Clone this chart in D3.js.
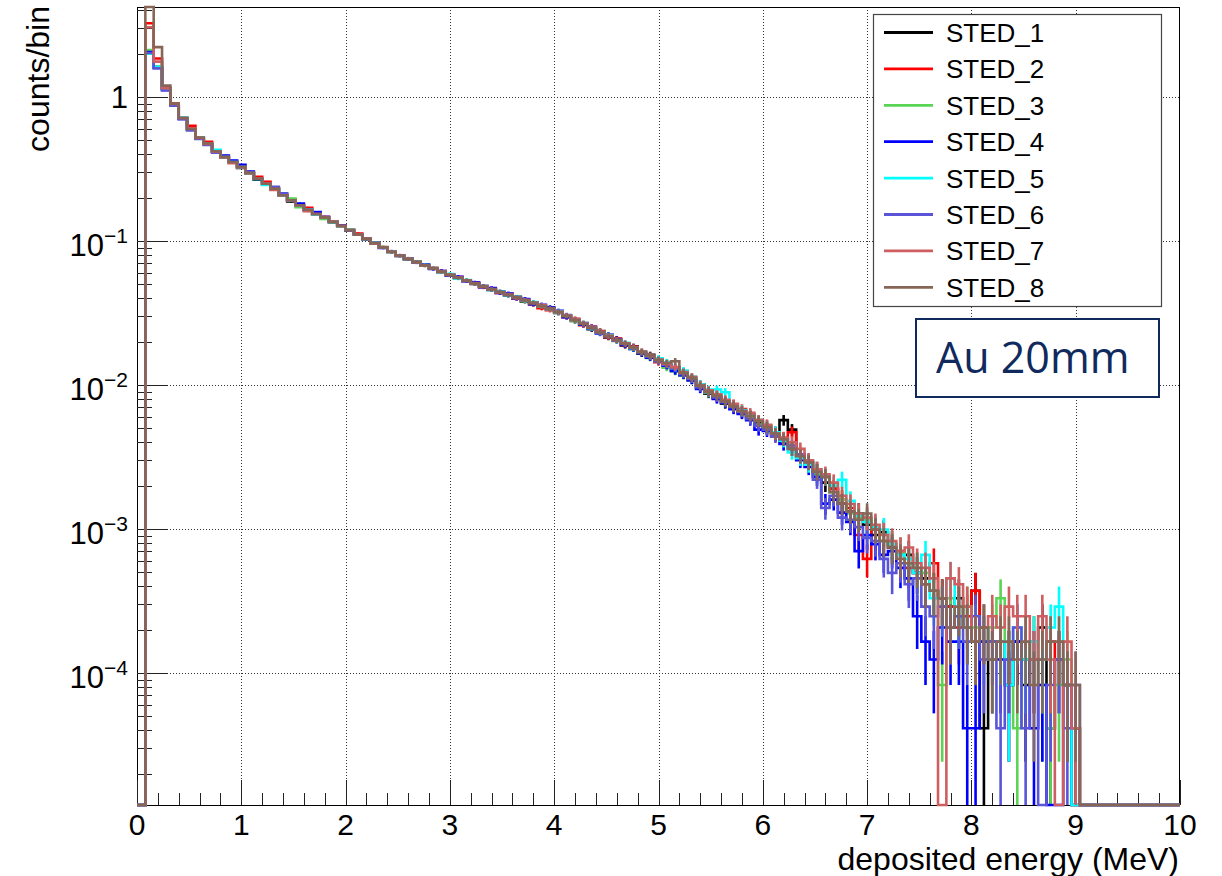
<!DOCTYPE html>
<html>
<head>
<meta charset="utf-8">
<script src="https://cdn.jsdelivr.net/npm/d3@7"></script>
<style>
  body { margin: 0; background: #fff; }
  svg { display: block; font-family: "Liberation Sans", Arial, Helvetica, sans-serif; }
</style>
</head>
<body>
<script>
// histogram binning: 125 bins of 0.08 MeV from 0 to 10 MeV
const binWidth = 0.08;
// value of a single entry (used for the sqrt(N) error bars)
const countUnit = 4.13e-5;

const seriesNames = ["STED_1", "STED_2", "STED_3", "STED_4", "STED_5", "STED_6", "STED_7", "STED_8"];
const seriesColors = ["#000000", "#ff0000", "#59d454", "#0000ff", "#00ffff", "#5954d8", "#cf5e61", "#876657"];

// counts/bin per bin
const sted1 = [
  0, 2.1, 1.62, 1.14, 0.89, 0.715, 0.60, 0.52, 0.472, 0.418,
  0.382, 0.352, 0.321, 0.296, 0.266, 0.249, 0.23, 0.207, 0.188, 0.177,
  0.164, 0.153, 0.145, 0.135, 0.127, 0.118, 0.111, 0.103, 0.0962, 0.0905,
  0.0838, 0.0792, 0.0747, 0.0716, 0.0675, 0.0646, 0.0608, 0.0585, 0.0552, 0.0534,
  0.0503, 0.0487, 0.0458, 0.0446, 0.0418, 0.0409, 0.0381, 0.0373, 0.0349, 0.0344,
  0.0316, 0.0305, 0.0278, 0.0269, 0.0244, 0.0237, 0.0214, 0.0209, 0.0188, 0.0185,
  0.0165, 0.0162, 0.0146, 0.0142, 0.0126, 0.0124, 0.0108, 0.0101, 0.0087, 0.0085,
  0.0074, 0.0073, 0.0064, 0.0062, 0.0055, 0.0050, 0.0047, 0.0057, 0.0049, 0.0032,
  0.0029, 0.0025, 0.0021, 0.0019, 0.0015, 1.32e-3, 1.28e-3, 1.07e-3, 9.09e-4, 9.50e-4,
  7.43e-4, 6.61e-4, 6.61e-4, 4.96e-4, 4.54e-4, 3.72e-4, 3.30e-4, 2.89e-4, 3.30e-4, 2.07e-4,
  3.72e-4, 4.13e-5, 1.24e-4, 1.65e-4, 1.24e-4, 1.65e-4, 8.26e-5, 1.24e-4, 2.07e-4, 4.13e-5,
  1.24e-4, 8.26e-5, 4.13e-5, 0, 0, 0, 0, 0, 0, 0,
  0, 0, 0, 0, 0
];
const sted2 = [
  0, 3.25, 1.85, 1.16, 0.9, 0.72, 0.63, 0.525, 0.488, 0.421,
  0.386, 0.356, 0.328, 0.299, 0.279, 0.258, 0.232, 0.209, 0.193, 0.178,
  0.17, 0.155, 0.147, 0.137, 0.1285, 0.12, 0.1125, 0.1045, 0.0975, 0.0898,
  0.0848, 0.0795, 0.0758, 0.0709, 0.0683, 0.0651, 0.0618, 0.0578, 0.0561, 0.0527,
  0.0512, 0.0477, 0.0466, 0.0436, 0.0428, 0.0399, 0.0392, 0.0362, 0.0342, 0.0331,
  0.0324, 0.0296, 0.0287, 0.0260, 0.0255, 0.0236, 0.0215, 0.0209, 0.0189, 0.0184,
  0.0171, 0.0157, 0.0144, 0.0135, 0.0132, 0.0118, 0.0113, 0.0097, 0.0092, 0.0081,
  0.0078, 0.0069, 0.0068, 0.0059, 0.0057, 0.0052, 0.0044, 0.0043, 0.0047, 0.0033,
  0.0029, 0.0026, 0.0023, 0.0019, 0.0016, 1.40e-3, 9.09e-4, 6.20e-4, 9.91e-4, 8.26e-4,
  7.85e-4, 7.02e-4, 5.37e-4, 4.96e-4, 4.13e-4, 5.78e-4, 3.30e-4, 2.89e-4, 2.07e-4, 2.48e-4,
  3.72e-4, 2.07e-4, 1.24e-4, 1.65e-4, 8.26e-5, 1.65e-4, 1.24e-4, 1.65e-4, 1.24e-4, 1.65e-4,
  1.24e-4, 8.26e-5, 0, 0, 0, 0, 0, 0, 0, 0,
  0, 0, 0, 0, 0
];
const sted3 = [
  0, 2.12, 1.63, 1.14, 0.885, 0.71, 0.597, 0.521, 0.471, 0.418,
  0.381, 0.352, 0.325, 0.296, 0.27, 0.249, 0.229, 0.207, 0.197, 0.172,
  0.164, 0.153, 0.142, 0.135, 0.1265, 0.1195, 0.1105, 0.104, 0.0962, 0.0908,
  0.0838, 0.0793, 0.0744, 0.0718, 0.0674, 0.0641, 0.0615, 0.0586, 0.0553, 0.0528,
  0.0509, 0.0481, 0.0464, 0.0439, 0.0424, 0.0402, 0.0384, 0.0366, 0.0357, 0.0341,
  0.0318, 0.0302, 0.0279, 0.0262, 0.0251, 0.0231, 0.0222, 0.0202, 0.0191, 0.0178,
  0.0167, 0.0154, 0.0147, 0.0132, 0.0124, 0.0116, 0.0109, 0.0095, 0.0088, 0.0084,
  0.0075, 0.0070, 0.0064, 0.0060, 0.0053, 0.0050, 0.0046, 0.0040, 0.0036, 0.0031,
  0.0030, 0.0024, 0.0023, 0.0018, 0.0016, 1.28e-3, 1.20e-3, 1.16e-3, 1.03e-3, 8.26e-4,
  7.85e-4, 7.02e-4, 5.78e-4, 5.37e-4, 4.96e-4, 3.72e-4, 8.26e-5, 3.30e-4, 2.48e-4, 2.89e-4,
  2.07e-4, 1.65e-4, 2.07e-4, 3.30e-4, 1.24e-4, 4.13e-5, 1.24e-4, 1.65e-4, 8.26e-5, 4.13e-5,
  8.26e-5, 1.24e-4, 0, 0, 0, 0, 0, 0, 0, 0,
  0, 0, 0, 0, 0
];
const sted4 = [
  0, 2.05, 1.6, 1.12, 0.88, 0.705, 0.595, 0.515, 0.47, 0.417,
  0.392, 0.362, 0.338, 0.304, 0.27, 0.249, 0.23, 0.209, 0.191, 0.182,
  0.164, 0.159, 0.146, 0.137, 0.1275, 0.1185, 0.1115, 0.1045, 0.0968, 0.0896,
  0.0849, 0.0786, 0.0754, 0.0708, 0.0685, 0.064, 0.0619, 0.0577, 0.0563, 0.0526,
  0.0515, 0.0478, 0.0471, 0.0436, 0.0432, 0.0398, 0.0395, 0.0364, 0.0361, 0.0345,
  0.0327, 0.0296, 0.0284, 0.0262, 0.0246, 0.0228, 0.0223, 0.0208, 0.0190, 0.0178,
  0.0166, 0.0155, 0.0151, 0.0136, 0.0125, 0.0117, 0.0108, 0.0094, 0.0091, 0.0080,
  0.0075, 0.0068, 0.0063, 0.0057, 0.0049, 0.0048, 0.0045, 0.0039, 0.0036, 0.0030,
  0.0027, 0.0023, 0.0015, 0.0016, 0.0013, 1.12e-3, 7.02e-4, 9.09e-4, 7.85e-4, 6.61e-4,
  7.02e-4, 5.37e-4, 4.54e-4, 2.48e-4, 1.65e-4, 1.24e-4, 2.07e-4, 1.65e-4, 1.65e-4, 4.13e-5,
  4.13e-5, 1.65e-4, 1.65e-4, 1.24e-4, 8.26e-5, 1.65e-4, 1.24e-4, 4.13e-5, 8.26e-5, 0,
  0, 8.26e-5, 0, 0, 0, 0, 0, 0, 0, 0,
  0, 0, 0, 0, 0
];
const sted5 = [
  0, 2.0, 1.62, 1.13, 0.89, 0.72, 0.6, 0.522, 0.474, 0.429,
  0.383, 0.353, 0.326, 0.296, 0.27, 0.245, 0.23, 0.208, 0.191, 0.176,
  0.166, 0.153, 0.145, 0.1365, 0.1265, 0.1195, 0.1105, 0.1035, 0.0972, 0.0898,
  0.0845, 0.0787, 0.0752, 0.0711, 0.0681, 0.0648, 0.0608, 0.0589, 0.0549, 0.0536,
  0.0505, 0.0485, 0.0457, 0.0445, 0.0419, 0.0408, 0.0385, 0.0376, 0.0352, 0.0336,
  0.0323, 0.0304, 0.0284, 0.0268, 0.0248, 0.0231, 0.0221, 0.0204, 0.0196, 0.0180,
  0.0170, 0.0158, 0.0153, 0.0144, 0.0131, 0.0126, 0.0114, 0.0101, 0.0093, 0.0093,
  0.0089, 0.0072, 0.0067, 0.0062, 0.0057, 0.0052, 0.0047, 0.0041, 0.0034, 0.0031,
  0.0028, 0.0026, 0.0023, 0.0020, 0.0022, 1.57e-3, 1.24e-3, 1.12e-3, 1.03e-3, 9.91e-4,
  7.85e-4, 6.61e-4, 6.20e-4, 4.96e-4, 6.61e-4, 3.30e-4, 2.89e-4, 4.54e-4, 2.48e-4, 2.07e-4,
  1.65e-4, 2.07e-4, 1.24e-4, 1.65e-4, 8.26e-5, 2.07e-4, 1.24e-4, 1.65e-4, 1.24e-4, 2.07e-4,
  2.89e-4, 8.26e-5, 0, 0, 0, 0, 0, 0, 0, 0,
  0, 0, 0, 0, 0
];
const sted6 = [
  0, 2.02, 1.58, 1.11, 0.87, 0.70, 0.585, 0.512, 0.465, 0.41,
  0.382, 0.353, 0.326, 0.297, 0.272, 0.251, 0.238, 0.214, 0.192, 0.177,
  0.165, 0.154, 0.147, 0.1355, 0.1275, 0.1188, 0.1115, 0.1032, 0.0968, 0.0904,
  0.0839, 0.0796, 0.0746, 0.0715, 0.0677, 0.0643, 0.0614, 0.0580, 0.0558, 0.0530,
  0.0506, 0.0486, 0.0459, 0.0443, 0.0421, 0.0406, 0.0390, 0.0372, 0.0356, 0.0338,
  0.0320, 0.0306, 0.0286, 0.0267, 0.0254, 0.0230, 0.0217, 0.0203, 0.0194, 0.0183,
  0.0168, 0.0157, 0.0146, 0.0138, 0.0131, 0.0119, 0.0110, 0.0096, 0.0089, 0.0082,
  0.0076, 0.0070, 0.0065, 0.0058, 0.0052, 0.0049, 0.0044, 0.0042, 0.0038, 0.0033,
  0.0030, 0.0022, 0.0014, 0.0017, 0.0012, 1.16e-3, 1.03e-3, 8.67e-4, 8.26e-4, 6.20e-4,
  4.96e-4, 5.78e-4, 4.13e-4, 4.54e-4, 2.89e-4, 2.48e-4, 2.89e-4, 2.07e-4, 2.48e-4, 1.65e-4,
  2.48e-4, 1.24e-4, 1.65e-4, 4.13e-5, 1.24e-4, 2.07e-4, 4.13e-5, 1.24e-4, 0, 8.26e-5,
  1.24e-4, 4.13e-5, 8.26e-5, 0, 0, 0, 0, 0, 0, 0,
  0, 0, 0, 0, 0
];
const sted7 = [
  0, 3.05, 1.76, 1.15, 0.895, 0.715, 0.605, 0.52, 0.472, 0.418,
  0.382, 0.347, 0.325, 0.296, 0.272, 0.251, 0.226, 0.208, 0.192, 0.177,
  0.161, 0.154, 0.146, 0.1362, 0.1268, 0.1192, 0.1108, 0.1038, 0.0962, 0.0906,
  0.0841, 0.0788, 0.0752, 0.0712, 0.0676, 0.0646, 0.0610, 0.0583, 0.0555, 0.0533,
  0.0506, 0.0482, 0.0463, 0.0440, 0.0425, 0.0401, 0.0389, 0.0372, 0.0358, 0.0337,
  0.0322, 0.0303, 0.0288, 0.0266, 0.0250, 0.0235, 0.0220, 0.0206, 0.0195, 0.0182,
  0.0170, 0.0160, 0.0150, 0.0140, 0.0133, 0.0123, 0.0114, 0.0100, 0.0092, 0.0086,
  0.0079, 0.0074, 0.0066, 0.0064, 0.0057, 0.0053, 0.0046, 0.0043, 0.0040, 0.0036,
  0.0030, 0.0026, 0.0024, 0.0021, 0.0017, 1.49e-3, 1.28e-3, 1.20e-3, 1.07e-3, 9.09e-4,
  8.26e-4, 7.02e-4, 7.43e-4, 5.78e-4, 5.37e-4, 4.54e-4, 0, 4.54e-4, 4.13e-4, 2.89e-4,
  1.65e-4, 2.07e-4, 2.48e-4, 2.07e-4, 2.89e-4, 2.48e-4, 2.48e-4, 1.24e-4, 2.48e-4, 1.24e-4,
  0, 1.65e-4, 4.13e-5, 0, 0, 0, 0, 0, 0, 0,
  0, 0, 0, 0, 0
];
const sted8 = [
  0, 4.6, 2.22, 1.2, 0.9, 0.715, 0.60, 0.523, 0.475, 0.42,
  0.384, 0.354, 0.327, 0.297, 0.271, 0.25, 0.231, 0.208, 0.192, 0.177,
  0.165, 0.154, 0.146, 0.136, 0.127, 0.119, 0.111, 0.1035, 0.0966, 0.0902,
  0.0842, 0.079, 0.075, 0.0713, 0.0678, 0.0644, 0.0612, 0.0582, 0.0556, 0.0531,
  0.0507, 0.0483, 0.0461, 0.0441, 0.0422, 0.0404, 0.0387, 0.037, 0.0354, 0.0339,
  0.0321, 0.0301, 0.0282, 0.0265, 0.0249, 0.0233, 0.0219, 0.0205, 0.0193, 0.0181,
  0.0169, 0.0159, 0.0149, 0.0142, 0.0146, 0.0121, 0.0112, 0.0099, 0.0090, 0.0084,
  0.0077, 0.0071, 0.0066, 0.0061, 0.0056, 0.0051, 0.0046, 0.0042, 0.0036, 0.0032,
  0.0029, 0.0025, 0.0023, 0.0018, 0.0015, 1.32e-3, 1.16e-3, 1.28e-3, 9.91e-4, 8.26e-4,
  7.43e-4, 6.20e-4, 5.78e-4, 5.37e-4, 4.13e-4, 3.72e-4, 3.30e-4, 2.07e-4, 2.89e-4, 2.07e-4,
  1.65e-4, 2.07e-4, 1.24e-4, 1.65e-4, 1.65e-4, 1.24e-4, 1.65e-4, 8.26e-5, 1.24e-4, 1.65e-4,
  1.65e-4, 8.26e-5, 8.26e-5, 0, 0, 0, 0, 0, 0, 0,
  0, 0, 0, 0, 0
];
const seriesValues = [sted1, sted2, sted3, sted4, sted5, sted6, sted7, sted8];

const xTickValues = [0, 1, 2, 3, 4, 5, 6, 7, 8, 9, 10];
const yTickValues = [1, 1e-1, 1e-2, 1e-3, 1e-4];
const yTickExps = ["", "\u22121", "\u22122", "\u22123", "\u22124"];

const xTitle = "deposited energy (MeV)";
const yTitle = "counts/bin";
const boxLabel = "Au 20mm";


function init() {
  let canvasW = 1222;
  let canvasH = 876;
  let frame = { left: 137, right: 1180, top: 7, bottom: 805 };

  let svg = d3.select("body").append("svg")
    .attr("width", canvasW)
    .attr("height", canvasH);

  let x = d3.scaleLinear().domain([0, 10]).range([frame.left, frame.right]);
  let y = d3.scaleLog().domain([1.211e-5, 4.217]).range([frame.bottom, frame.top]);
  // log axis: empty bins and values off the frame get pinned to its edges
  let yc = v => (v <= y.domain()[0]) ? frame.bottom : Math.max(frame.top, Math.min(frame.bottom, y(v)));

  // grid
  let grid = svg.append("g")
    .attr("stroke", "#333")
    .attr("stroke-width", 1)
    .attr("stroke-dasharray", "1,2");
  grid.selectAll(null)
    .data(xTickValues.slice(1, -1))
    .enter().append("line")
      .attr("x1", d => Math.round(x(d)) + 0.5)
      .attr("x2", d => Math.round(x(d)) + 0.5)
      .attr("y1", frame.top)
      .attr("y2", frame.bottom);
  grid.selectAll(null)
    .data(yTickValues)
    .enter().append("line")
      .attr("x1", frame.left)
      .attr("x2", frame.right)
      .attr("y1", d => Math.round(y(d)) + 0.5)
      .attr("y2", d => Math.round(y(d)) + 0.5);

  // frame
  svg.append("rect")
    .attr("x", frame.left + 0.5)
    .attr("y", frame.top + 0.5)
    .attr("width", frame.right - frame.left - 1)
    .attr("height", frame.bottom - frame.top)
    .attr("fill", "none")
    .attr("stroke", "#000")
    .attr("stroke-width", 1);

  // x ticks: major every 1 MeV, minor every 0.2 MeV
  let xMinor = d3.range(0, 50).map(i => i * 0.2).filter(v => Math.abs(v - Math.round(v)) > 1e-6);
  let ticks = svg.append("g").attr("stroke", "#222").attr("stroke-width", 1);
  ticks.selectAll(null)
    .data(xTickValues)
    .enter().append("line")
      .attr("x1", d => Math.round(x(d)) + 0.5)
      .attr("x2", d => Math.round(x(d)) + 0.5)
      .attr("y1", frame.bottom)
      .attr("y2", frame.bottom - 25);
  ticks.selectAll(null)
    .data(xMinor)
    .enter().append("line")
      .attr("x1", d => Math.round(x(d)) + 0.5)
      .attr("x2", d => Math.round(x(d)) + 0.5)
      .attr("y1", frame.bottom)
      .attr("y2", frame.bottom - 12);

  // y ticks: decades and 2..9 in between
  let yMinor = [];
  [-5, -4, -3, -2, -1, 0].forEach(e => {
    for (let k = 2; k <= 9; k++) {
      let v = k * Math.pow(10, e);
      if (v >= y.domain()[0] && v <= y.domain()[1]) yMinor.push(v);
    }
  });
  ticks.selectAll(null)
    .data(yTickValues)
    .enter().append("line")
      .attr("x1", frame.left)
      .attr("x2", frame.left + 31)
      .attr("y1", d => Math.round(y(d)) + 0.5)
      .attr("y2", d => Math.round(y(d)) + 0.5);
  ticks.selectAll(null)
    .data(yMinor)
    .enter().append("line")
      .attr("x1", frame.left)
      .attr("x2", frame.left + 15)
      .attr("y1", d => Math.round(y(d)) + 0.5)
      .attr("y2", d => Math.round(y(d)) + 0.5);

  // histograms, drawn in legend order so STED_8 ends up on top
  let stepLine = d3.line().x(d => x(d[0])).y(d => yc(d[1]));
  seriesValues.forEach((vals, s) => {
    let g = svg.append("g")
      .attr("stroke", seriesColors[s])
      .attr("stroke-width", 2.6)
      .attr("fill", "none");

    let pts = [];
    vals.forEach((v, i) => {
      pts.push([i * binWidth, v]);
      pts.push([(i + 1) * binWidth, v]);
    });
    g.append("path")
      .attr("d", stepLine(pts))
      .attr("stroke-linejoin", "miter");

    // sqrt(N) error bars at bin centres
    let bars = vals.map((v, i) => ({ c: (i + 0.5) * binWidth, v: v, e: Math.sqrt(v * countUnit) }))
      .filter(d => d.v > 0);
    g.selectAll(null)
      .data(bars)
      .enter().append("line")
        .attr("x1", d => x(d.c))
        .attr("x2", d => x(d.c))
        .attr("y1", d => yc(d.v - d.e))
        .attr("y2", d => yc(d.v + d.e));
  });

  // tick labels
  svg.selectAll(null)
    .data(xTickValues)
    .enter().append("text")
      .attr("x", d => x(d))
      .attr("y", frame.bottom + 30)
      .attr("text-anchor", "middle")
      .attr("font-size", "30px")
      .attr("fill", "#000")
      .text(d => d);

  let yLabelData = yTickValues.map((v, i) => ({ v: v, exp: yTickExps[i] }));
  let yl = svg.selectAll(null)
    .data(yLabelData)
    .enter().append("text")
      .attr("x", frame.left - 9)
      .attr("y", d => y(d.v) + (d.exp ? 15 : 11))
      .attr("text-anchor", "end")
      .attr("font-size", "31px")
      .attr("fill", "#000");
  yl.append("tspan").text(d => d.exp ? "10" : "1");
  yl.filter(d => d.exp !== "")
    .append("tspan")
      .attr("dy", -13)
      .attr("font-size", "21px")
      .text(d => d.exp);

  // axis titles
  svg.append("text")
    .attr("x", frame.right - 1)
    .attr("y", 870)
    .attr("text-anchor", "end")
    .attr("font-size", "32px")
    .attr("fill", "#000")
    .text(xTitle);

  svg.append("text")
    .attr("transform", "translate(49," + (frame.top - 1) + ") rotate(-90)")
    .attr("text-anchor", "end")
    .attr("font-size", "32px")
    .attr("fill", "#000")
    .text(yTitle);

  // legend
  let legend = svg.append("g");
  legend.append("rect")
    .attr("x", 873.5)
    .attr("y", 14.5)
    .attr("width", 288)
    .attr("height", 292)
    .attr("fill", "#fff")
    .attr("stroke", "#444")
    .attr("stroke-width", 1.2);
  let rows = legend.selectAll(null)
    .data(seriesNames)
    .enter().append("g")
      .attr("transform", (d, i) => "translate(0," + (32.5 + i * 36.4) + ")");
  rows.append("line")
    .attr("x1", 884)
    .attr("x2", 933)
    .attr("y1", 0)
    .attr("y2", 0)
    .attr("stroke", (d, i) => seriesColors[i])
    .attr("stroke-width", 2.8);
  rows.append("text")
    .attr("x", 946)
    .attr("y", 9.5)
    .attr("font-size", "26px")
    .attr("fill", "#000")
    .text(d => d);

  // sample label box
  svg.append("rect")
    .attr("x", 916)
    .attr("y", 319)
    .attr("width", 243)
    .attr("height", 78)
    .attr("fill", "#fff")
    .attr("stroke", "#102a5e")
    .attr("stroke-width", 2);
  svg.append("text")
    .attr("x", 936)
    .attr("y", 373)
    .attr("font-family", "'Open Sans', 'Noto Sans', sans-serif")
    .attr("font-size", "43px")
    .attr("fill", "#102a5e")
    .text(boxLabel);
}

init();
</script>
</body>
</html>
